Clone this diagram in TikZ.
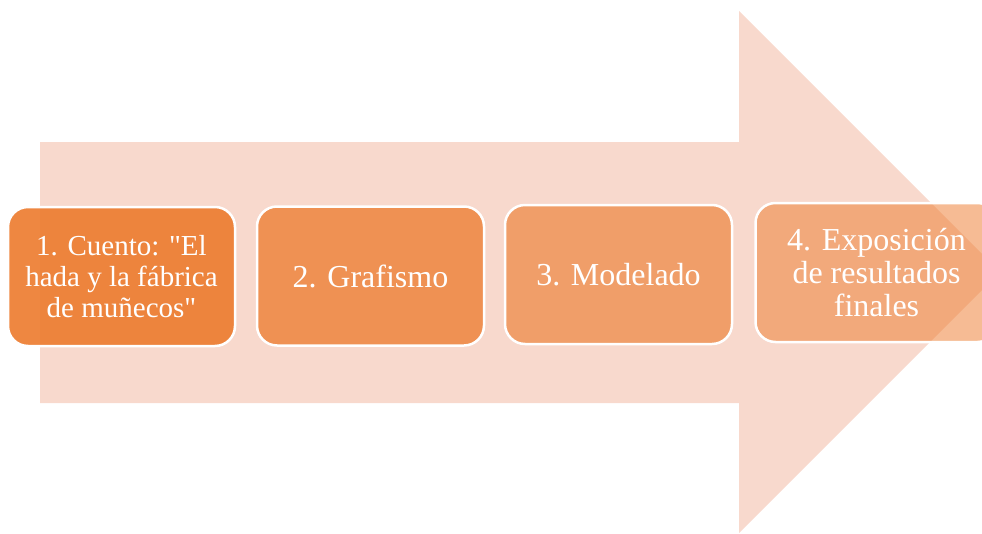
\documentclass[tikz,border=0pt]{standalone}
\usepackage{fontspec}
\setmainfont{Liberation Serif}
\usetikzlibrary{positioning}
\definecolor{flowpink}{RGB}{248,217,205}
\definecolor{steporange}{RGB}{237,125,49}
\tikzset{
  stepbox/.style={draw=white, line width=2.5pt, rounded corners=20pt,
    minimum width=227pt, minimum height=139pt, align=center,
    fill=steporange, text=white, text opacity=1,
    font=\fontsize{32}{33}\selectfont},
}

\begin{document}
\begin{tikzpicture}[x=1pt,y=-1pt]
    \useasboundingbox (0,0) rectangle (982,533);
    \clip (0,0) rectangle (982,533);
    % big arrow behind the steps
    \fill[flowpink] (40,142) -- (739,142) -- (739,11) -- (1000,272)
        -- (739,533) -- (739,403) -- (40,403) -- cycle;

    \node [stepbox, fill opacity=0.92, font=\fontsize{29}{31}\selectfont](step1) at (121.5,276.5)
        {1. Cuento: \textquotedbl El\\hada y la fábrica\\de muñecos\textquotedbl};
    \node [stepbox, fill opacity=0.78, right=19.5pt of step1, yshift=0.5pt](step2)
        {2. Grafismo};
    \node [stepbox, fill opacity=0.64, right=18.5pt of step2, yshift=1.5pt](step3)
        {3. Modelado};
    \node [stepbox, fill opacity=0.52, right=21pt of step3, yshift=2pt, minimum width=242pt](step4)
        {4. Exposición\\de resultados\\finales};
\end{tikzpicture}
\end{document}
